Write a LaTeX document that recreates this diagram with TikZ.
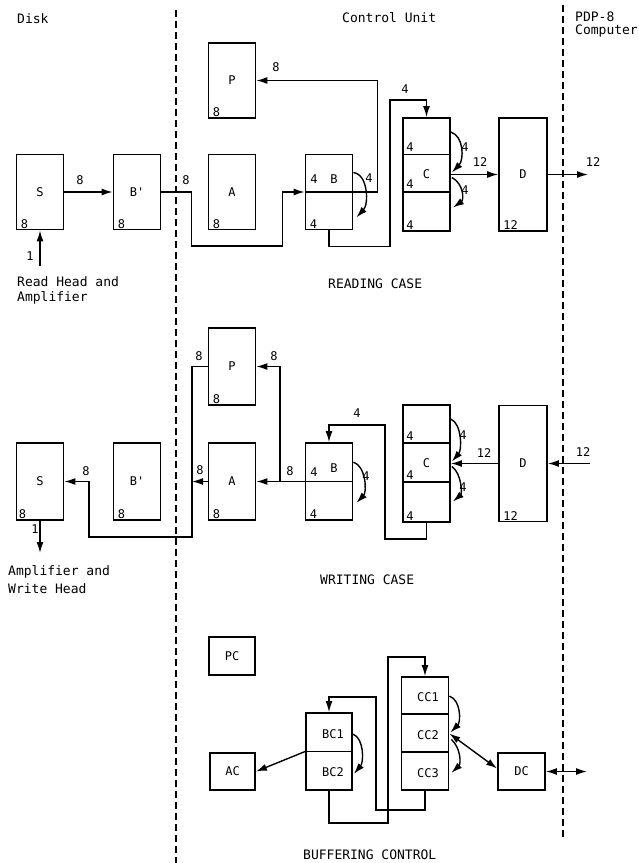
\documentclass[tikz,border=0pt]{standalone}
\usepackage{fontspec}
\setmonofont{DejaVu Sans Mono}
\usetikzlibrary{arrows.meta,calc}
\begin{document}
\begin{tikzpicture}[x=1pt,y=-1pt,
  box/.style={draw,line width=1.8pt,inner sep=0pt,minimum width=47pt,minimum height=75pt,font=\ttfamily\fontsize{12}{12}\selectfont},
  sbox/.style={box,minimum height=37pt},
  lbox/.style={box,minimum height=113pt},
  lbl/.style={inner sep=0pt,font=\ttfamily\fontsize{12}{12}\selectfont},
  bl/.style={lbl,anchor=south west},
  txt/.style={inner sep=0pt,anchor=west,font=\ttfamily\fontsize{13}{13}\selectfont},
  div/.style={line width=1.6pt},
  con/.style={line width=1.4pt},
  arr/.style={con,-{Latex[length=11pt,width=7pt]}},
  darr/.style={con,{Latex[length=11pt,width=7pt]}-{Latex[length=11pt,width=7pt]}},
  sep/.style={line width=1.6pt,dash pattern=on 7pt off 4pt}]
\useasboundingbox (0,0) rectangle (638,863);

% separators
\draw[sep] (176,10) -- (176,863);
\draw[sep] (563,5) -- (563,840);

% headings
\node[txt] (hDisk) at (17,19) {Disk};
\node[txt] (hCU) at (342,18) {Control Unit};
\node[txt] (hPDP) at (575,17) {PDP-8};
\node[txt] (hComp) at (575,31) {Computer};

% ================= READING CASE =================
\node[box] (rS) at (40,192) {S};
\node[bl] at ($(rS.south west)+(5,-2)$) {8};
\node[box] (rBp) at (137,192) {B'};
\node[bl] at ($(rBp.south west)+(5,-2)$) {8};
\node[box] (rP) at (232,80.5) {P};
\node[bl] at ($(rP.south west)+(5,-2)$) {8};
\node[box] (rA) at (232,192) {A};
\node[bl] at ($(rA.south west)+(5,-2)$) {8};
\node[box] (rB) at (329,192) {};
\draw[div] (rB.west) -- (rB.east);
\node[lbl] at (314,179) {4};
\node[lbl] at (334,179) {B};
\node[bl] at ($(rB.south west)+(5,-2)$) {4};
\node[lbox] (rC) at (426.5,174.5) {C};
\draw[div] ($(rC.north west)+(0,37.5)$) -- ($(rC.north east)+(0,37.5)$);
\draw[div] ($(rC.north west)+(0,75)$) -- ($(rC.north east)+(0,75)$);
\node[bl] at ($(rC.north west)+(4,35)$) {4};
\node[bl] at ($(rC.north west)+(4,72)$) {4};
\node[bl] at ($(rC.south west)+(4,-2)$) {4};
\node[lbox,minimum width=48pt] (rD) at (523,174.5) {D};
\node[bl] at ($(rD.south west)+(5,-2)$) {12};

\coordinate (rIn) at (40,266);
\coordinate (rOut) at (588,174.5);
\draw[arr] (rS) -- (rBp);
\node[lbl] at (80,180) {8};
\draw[arr] (rIn) -- (rS.south);
\node[lbl] at (30,256) {1};
\draw[arr] (rBp.east) -- ++(30,0) -- ++(0,54) -- ++(91,0) |- (rB.west);
\node[lbl] at (186,180) {8};
\draw[arr] (rB.east) -- ++(24,0) |- (rP.east);
\node[lbl] at (276,67) {8};
\draw[arr] (rB.south) -- ++(0,16) -| (390,100) -| (rC.north);
\node[lbl] at (405,89) {4};
\draw[arr] ($(rB.north east)+(0,19)$) .. controls (368,174) and (369,204) .. ($(rB.south east)+(3,-13)$);
\node[lbl] at (369,178) {4};
\draw[arr] ($(rC.north east)+(0,15)$) .. controls (464,136) and (464,160) .. ($(rC.east)+(1,-2)$);
\node[lbl] at (465,147) {4};
\draw[arr] ($(rC.east)+(1,3)$) .. controls (464,184) and (464,200) .. ($(rC.east)+(2,33)$);
\node[lbl] at (465,190) {4};
\draw[arr] (rC) -- (rD);
\node[lbl] at (480,162) {12};
\draw[arr] (rD) -- (rOut);
\node[lbl] at (593,162) {12};

\node[txt] (rt1) at (17,282) {Read Head and};
\node[txt] (rt2) at (17,298) {Amplifier};
\node[txt] (rCase) at (328,284) {READING CASE};

% ================= WRITING CASE =================
\node[box,minimum height=77pt] (wP) at (232,366.5) {P};
\node[bl] at ($(wP.south west)+(5,-2)$) {8};
\node[box,minimum height=77pt] (wA) at (232,481.5) {A};
\node[bl] at ($(wA.south west)+(5,-2)$) {8};
\node[box,minimum height=77pt] (wS) at (40,481.5) {S};
\node[bl] at ($(wS.south west)+(3,-2)$) {8};
\node[box,minimum height=77pt] (wBp) at (137,481.5) {B'};
\node[bl] at ($(wBp.south west)+(5,-2)$) {8};
\node[box,minimum height=77pt] (wB) at (329,481.5) {};
\draw[div] (wB.west) -- (wB.east);
\node[lbl] at (314,472) {4};
\node[lbl] at (334,468) {B};
\node[bl] at ($(wB.south west)+(5,-2)$) {4};
\node[lbox,minimum height=117pt] (wC) at (426.5,463.5) {C};
\draw[div] ($(wC.north west)+(0,39)$) -- ($(wC.north east)+(0,39)$);
\draw[div] ($(wC.north west)+(0,78)$) -- ($(wC.north east)+(0,78)$);
\node[bl] at ($(wC.north west)+(4,37)$) {4};
\node[bl] at ($(wC.north west)+(4,76)$) {4};
\node[bl] at ($(wC.south west)+(4,-2)$) {4};
\node[lbox,minimum width=48pt,minimum height=116pt] (wD) at (523,463.5) {D};
\node[bl] at ($(wD.south west)+(5,-2)$) {12};

\coordinate (wIn) at (590,463.5);
\coordinate (wOut) at (40,553);
\coordinate (wJ) at (280,481.5);
\coordinate (wK) at (192,481.5);
\draw[arr] (wIn) -- (wD);
\node[lbl] at (583,452) {12};
\draw[arr] (wD) -- (wC);
\node[lbl] at (484,453) {12};
\draw[arr] ($(wC.north east)+(0,15)$) .. controls (462,424) and (462,450) .. ($(wC.east)+(1,-2)$);
\node[lbl] at (463,435) {4};
\draw[arr] ($(wC.east)+(1,3)$) .. controls (462,474) and (462,494) .. ($(wC.east)+(2,38)$);
\node[lbl] at (463,487) {4};
\draw[arr] (wC.south) -- ++(0,16) -| (385,425) -| (wB.north);
\node[lbl] at (357,413) {4};
\draw[arr] ($(wB.north east)+(0,20)$) .. controls (366,466) and (367,492) .. ($(wB.south east)+(3,-18)$);
\node[lbl] at (366,476) {4};
\draw[arr] (wB.west) -- (wA.east);
\node[lbl] at (290,471) {8};
\draw[arr] (wJ) |- (wP.east);
\node[lbl] at (274,356) {8};
\draw[arr] (wA.west) -- (wK);
\node[lbl] at (200,470) {8};
\draw[arr] (wP.west) -| (wK) -- (192,537) -| (89,481.5) -- (wS.east);
\node[lbl] at (199,356) {8};
\node[lbl] at (86,471) {8};
\draw[arr] (wS.south) -- (wOut);
\node[lbl] at (35,529) {1};

\node[txt] (wt1) at (8,572) {Amplifier and};
\node[txt] (wt2) at (8,589) {Write Head};
\node[txt] (wCase) at (320,580) {WRITING CASE};

% ================= BUFFERING CONTROL =================
\node[sbox,minimum width=46pt,minimum height=38pt] (PC) at (232,656) {PC};
\node[sbox,minimum width=45pt] (AC) at (232.5,771.5) {AC};
\node[box,minimum width=46pt,minimum height=77pt] (BC) at (329,751.5) {};
\draw[div] (BC.west) -- (BC.east);
\node[lbl] at (333,734) {BC1};
\node[lbl] at (333,772) {BC2};
\node[lbox] (CC) at (425,733.5) {};
\draw[div] ($(CC.north west)+(0,38)$) -- ($(CC.north east)+(0,38)$);
\draw[div] ($(CC.north west)+(0,76)$) -- ($(CC.north east)+(0,76)$);
\node[lbl] at (428,697) {CC1};
\node[lbl] at (428,735) {CC2};
\node[lbl] at (428,773) {CC3};
\node[sbox,minimum width=47pt] (DC) at (521.5,771.5) {DC};

\coordinate (bOut) at (587,771.5);
\draw[arr] (BC.west) -- (AC.east);
\draw[arr] ($(BC.north east)+(0,22)$) .. controls (364,738) and (364,762) .. ($(BC.south east)+(1,-17)$);
\draw[arr] ($(CC.north east)+(0,20)$) .. controls (461,700) and (461,722) .. ($(CC.east)+(1,-1)$);
\draw[arr] ($(CC.east)+(2,6)$) .. controls (461,748) and (461,764) .. ($(CC.south east)+(2,-18)$);
\draw[darr] (CC.east) -- ($(DC.west)+(0,-3)$);
\draw[darr] (DC.east) -- (bOut);
\draw[arr] (BC.south) -- ++(0,32) -| (388,657) -| (CC.north);
\draw[arr] (CC.south) -- ++(0,19) -| (376,697) -| (BC.north);

\node[txt] (bCase) at (303,855) {BUFFERING CONTROL};
\end{tikzpicture}
\end{document}
